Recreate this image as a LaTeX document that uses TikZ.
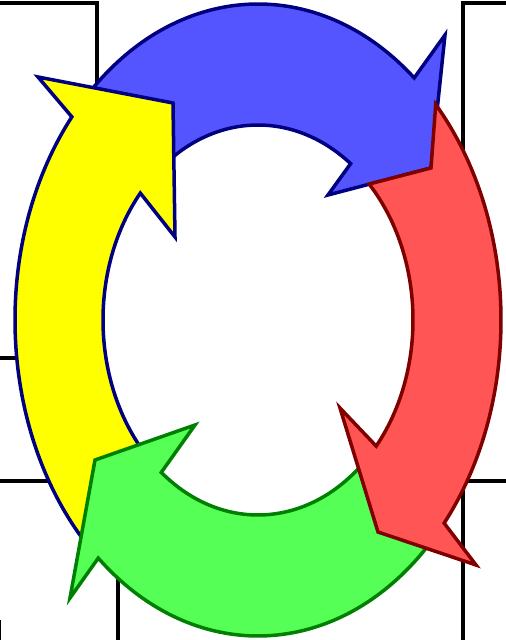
\documentclass[tikz,border=0pt]{standalone}
\usepackage{xcolor}
\definecolor{cyblue}{RGB}{85,85,255}
\definecolor{cynavy}{RGB}{0,0,128}
\definecolor{cyyellow}{RGB}{255,255,0}
\definecolor{cygreen}{RGB}{85,255,85}
\definecolor{cydkgreen}{RGB}{0,128,0}
\definecolor{cyred}{RGB}{255,85,85}
\definecolor{cydkred}{RGB}{128,0,0}
\usetikzlibrary{calc}

\begin{document}
\begin{tikzpicture}[x=1pt,y=1pt,
  frame/.style={draw=black,line width=4pt},
  arr/.style={line width=3.5pt,line join=miter},
  ringout/.style={x radius=243pt,y radius=316pt},
  ringin/.style={x radius=155pt,y radius=195pt}
]
  \useasboundingbox (0,0) rectangle (506,640);
  \coordinate (c) at (258,320);
  % frame lines behind the ring
  \draw[frame] (0,637) -- (97,637) -- (97,540);
  \draw[frame] (506,637) -- (463,637) -- (463,480);
  \draw[frame] (0,282) -- (30,282);
  \draw[frame] (0,159) -- (60,159);
  \draw[frame] (118,90) -- (118,0);
  \draw[frame] (506,159) -- (463,159) -- (463,0);
  \draw[black,line width=1.2pt] (0.6,20) -- (0.6,0);
  % blue arrow (top)
  \coordinate (bBarbO) at (445,605);
  \coordinate (bTip) at (431,472);
  \coordinate (bBarbI) at (328,445);
  \filldraw[arr,fill=cyblue,draw=cynavy]
    ($(c)+(135:243pt and 316pt)$) arc[ringout,start angle=135,end angle=50]
    -- (bBarbO) -- (bTip) -- (bBarbI)
    -- ($(c)+(53.3:155pt and 195pt)$) arc[ringin,start angle=53.3,end angle=125]
    -- cycle;
  % yellow arrow (left)
  \coordinate (yBarbO) at (38,563);
  \coordinate (yTip) at (173,537);
  \coordinate (yBarbI) at (175,403);
  \filldraw[arr,fill=cyyellow,draw=cynavy]
    ($(c)+(140:243pt and 316pt)$) arc[ringout,start angle=140,end angle=226]
    -- ($(c)+(222:155pt and 195pt)$) arc[ringin,start angle=222,end angle=139.4]
    -- (yBarbI) -- (yTip) -- (yBarbO) -- cycle;
  % green arrow (bottom)
  \coordinate (gBarbO) at (70,42);
  \coordinate (gTip) at (95,180);
  \coordinate (gBarbI) at (195,215);
  \filldraw[arr,fill=cygreen,draw=cydkgreen]
    ($(c)+(228.9:243pt and 316pt)$) arc[ringout,start angle=228.9,end angle=317]
    -- ($(c)+(314:155pt and 195pt)$) arc[ringin,start angle=314,end angle=231.4]
    -- (gBarbI) -- (gTip) -- (gBarbO) -- cycle;
  % red arrow (right)
  \coordinate (rBarbO) at (476,75);
  \coordinate (rTip) at (378,108);
  \coordinate (rBarbI) at (340,232);
  \filldraw[arr,fill=cyred,draw=cydkred]
    ($(c)+(43:243pt and 316pt)$) arc[ringout,start angle=43,end angle=-40]
    -- (rBarbO) -- (rTip) -- (rBarbI)
    -- ($(c)+(-40.3:155pt and 195pt)$) arc[ringin,start angle=-40.3,end angle=44.2]
    -- (bTip) -- cycle;
\end{tikzpicture}
\end{document}
